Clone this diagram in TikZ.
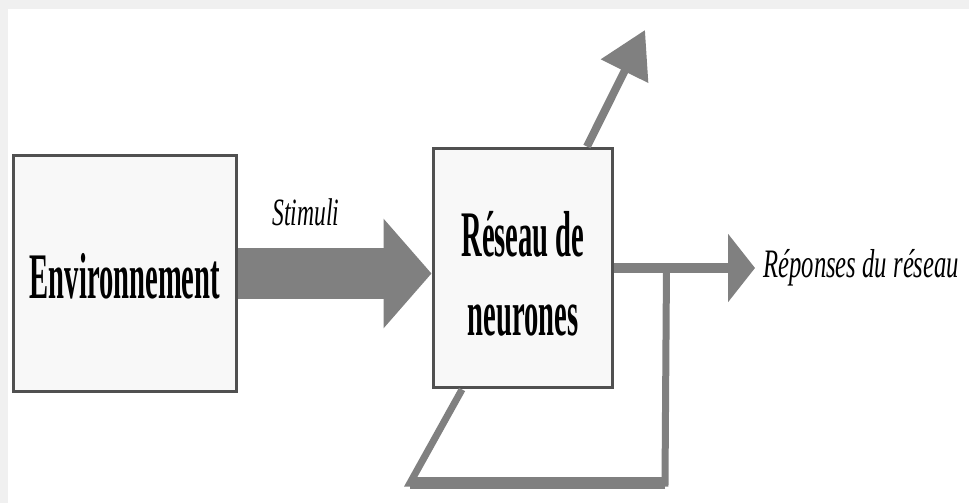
\documentclass[tikz,border=0pt]{standalone}
\usepackage{fontspec}
\setmainfont{Liberation Serif}
\newfontfamily\blocfont[FakeStretch=0.44]{Liberation Serif}
\newfontfamily\etiqfont[FakeStretch=0.61]{Liberation Serif}
\usepackage{tikz}
\usetikzlibrary{arrows.meta,positioning,calc}
\definecolor{flechegris}{RGB}{128,128,128}
\definecolor{bordgris}{RGB}{80,80,80}
\definecolor{fondgris}{RGB}{248,248,248}
\definecolor{cadregris}{RGB}{240,240,240}
\tikzset{
  bloc/.style = {draw=bordgris,line width=0.06cm,fill=fondgris,inner sep=0pt},
  bloctexte/.style = {align=center,inner sep=0pt,
    font=\blocfont\bfseries\fontsize{37}{44.8}\selectfont},
  etiquette/.style = {inner sep=0pt,font=\etiqfont\itshape\fontsize{#1}{26}\selectfont},
  fleche/.style = {draw=flechegris,line width=#1},
}
\begin{document}
\begin{tikzpicture}[x=0.02cm,y=-0.02cm]
        % cadre
        \fill[cadregris](0,0)rectangle(969,503);
        \fill[white](8,9)rectangle(969,503);
        \useasboundingbox(0,0)rectangle(969,503);
        % blocs
        \node[bloc,minimum width=4.48cm,minimum height=4.74cm](env)at(125,273.5){};
        \node[bloctexte](envtxt)at([yshift=-0.06cm]env.center){Environnement};
        \node[bloc,minimum width=3.6cm,minimum height=4.8cm](reseau)at(523,268){};
        \node[bloctexte](reseautxt)at([yshift=-0.12cm]reseau.center){Réseau de\\neurones};
        % stimuli
        \draw[fleche=1.04cm,-{Triangle[length=0.96cm,width=2.14cm]}](env.east)to(env.east-|reseau.west);
        \node[etiquette=22](stim)at(306,212){Stimuli};
        % réponses
        \coordinate(sortie)at(755,268);
        \draw[fleche=0.2cm,-{Triangle[length=0.54cm,width=1.34cm]}](reseau.east)to(sortie);
        \node[etiquette=23,right=0.16cm of sortie](rep){Réponses du réseau};
        % sortie vers le haut
        \coordinate(haut)at(645,30);
        \draw[fleche=0.16cm,-{Triangle[length=0.92cm,width=1.02cm]}]([xshift=1.28cm]reseau.north)to(haut);
        % rétroaction
        \coordinate(branche)at($(reseau.east)+(52,0)$);
        \coordinate(bd)at(665,483);
        \coordinate(bg)at(410,483);
        \path[fleche=0.14cm,line join=miter](branche)to(bd)to(bg)to([xshift=-1.22cm]reseau.south);
        \path[fleche=0.24cm](bd)to(bg);
    \end{tikzpicture}
\end{document}
